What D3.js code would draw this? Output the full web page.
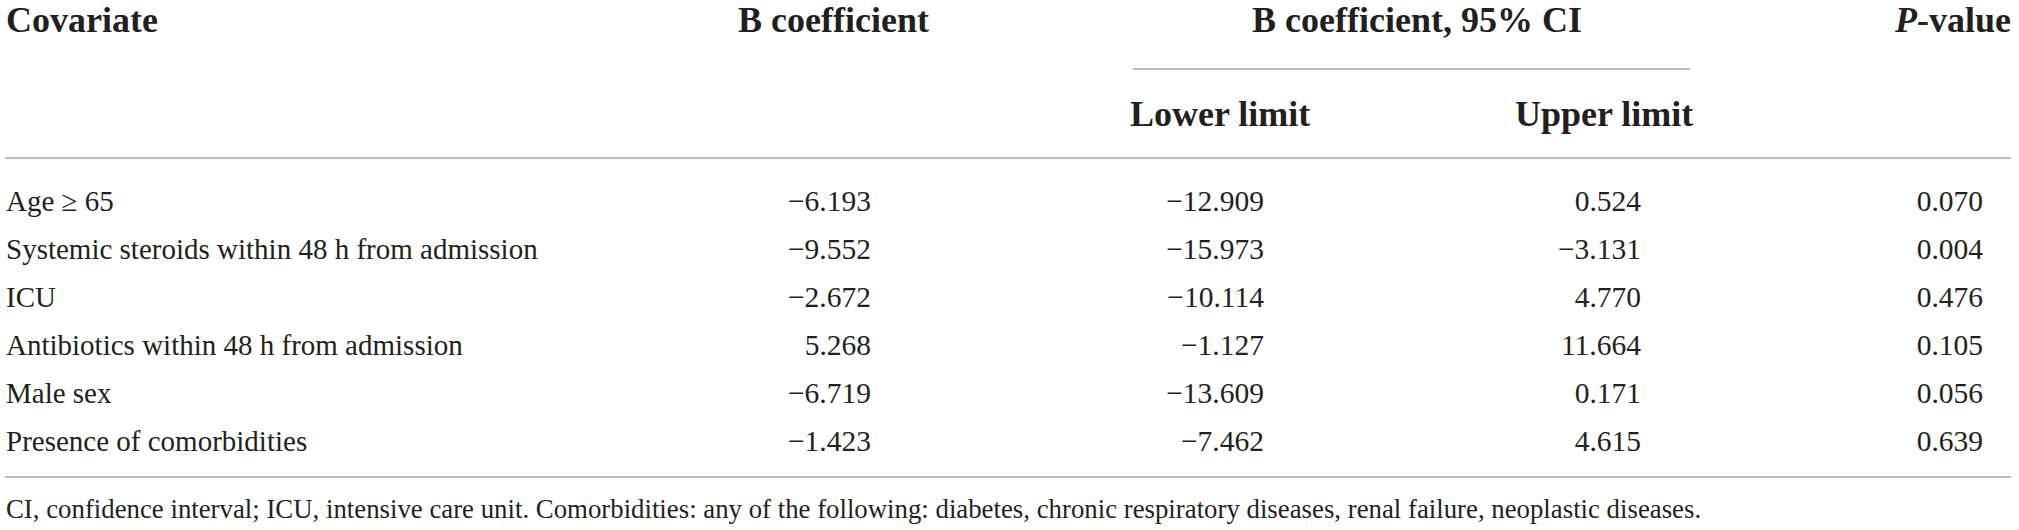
<!DOCTYPE html>
<html>
<head>
<meta charset="utf-8">
<script src="https://cdn.jsdelivr.net/npm/d3@7"></script>
<style>
  html, body { margin: 0; padding: 0; background: #fff; }
  svg { display: block; }
  text { font-family: "Liberation Serif", "Times New Roman", serif; fill: #231f20; }
</style>
</head>
<body>
<div id="chart"></div>
<script>
// table values
var covariates = [
  "Age \u2265 65",
  "Systemic steroids within 48 h from admission",
  "ICU",
  "Antibiotics within 48 h from admission",
  "Male sex",
  "Presence of comorbidities"
];
var bCoef = ["\u22126.193", "\u22129.552", "\u22122.672", "5.268", "\u22126.719", "\u22121.423"];
var lowerLimit = ["\u221212.909", "\u221215.973", "\u221210.114", "\u22121.127", "\u221213.609", "\u22127.462"];
var upperLimit = ["0.524", "\u22123.131", "4.770", "11.664", "0.171", "4.615"];
var pValues = ["0.070", "0.004", "0.476", "0.105", "0.056", "0.639"];
var footnote = "CI, confidence interval; ICU, intensive care unit. Comorbidities: any of the following: diabetes, chronic respiratory diseases, renal failure, neoplastic diseases.";

var width = 2019, height = 530;

var svg = d3.select("#chart").append("svg")
    .attr("width", width)
    .attr("height", height);

// row baselines
var y = d3.scalePoint()
    .domain(covariates)
    .range([211, 451]);

// value columns: right edge of each numeric column
var numCols = [
  {values: bCoef, right: 871},
  {values: lowerLimit, right: 1264},
  {values: upperLimit, right: 1641},
  {values: pValues, right: 1983}
];

var bodySize = 29.5, labelSize = 29, noteSize = 26.8, headSize = 36;

// header texts
var head = svg.append("g").attr("font-weight", "bold").attr("font-size", headSize);
head.append("text").attr("x", 6).attr("y", 32).text("Covariate");
head.append("text").attr("x", 738).attr("y", 32).text("B coefficient");
head.append("text").attr("x", 1252).attr("y", 32).text("B coefficient, 95% CI");
var pv = head.append("text").attr("x", 1895).attr("y", 32);
pv.append("tspan").attr("font-style", "italic").text("P");
pv.append("tspan").text("-value");
head.append("text").attr("x", 1130).attr("y", 126).text("Lower limit");
head.append("text").attr("x", 1515).attr("y", 126).text("Upper limit");

// rules
var rules = [
  {x1: 1133, x2: 1690, y: 69},
  {x1: 5, x2: 2011, y: 158},
  {x1: 5, x2: 2011, y: 477}
];
svg.selectAll("line.rule")
  .data(rules)
  .enter().append("line")
    .attr("class", "rule")
    .attr("x1", function(d){ return d.x1; })
    .attr("x2", function(d){ return d.x2; })
    .attr("y1", function(d){ return d.y; })
    .attr("y2", function(d){ return d.y; })
    .attr("stroke", "#a7a7a7")
    .attr("stroke-width", 1.6);

// covariate labels
svg.append("g").selectAll("text")
  .data(covariates)
  .enter().append("text")
    .attr("x", 6)
    .attr("y", function(d){ return y(d); })
    .attr("font-size", labelSize)
    .text(function(d){ return d; });

// numeric columns
numCols.forEach(function(col){
  svg.append("g").selectAll("text")
    .data(col.values)
    .enter().append("text")
      .attr("x", col.right)
      .attr("y", function(d, i){ return y(covariates[i]); })
      .attr("text-anchor", "end")
      .attr("font-size", bodySize)
      .text(function(d){ return d; });
});

// footnote
svg.append("text")
    .attr("x", 6)
    .attr("y", 518)
    .attr("font-size", noteSize)
    .text(footnote);
</script>
</body>
</html>
